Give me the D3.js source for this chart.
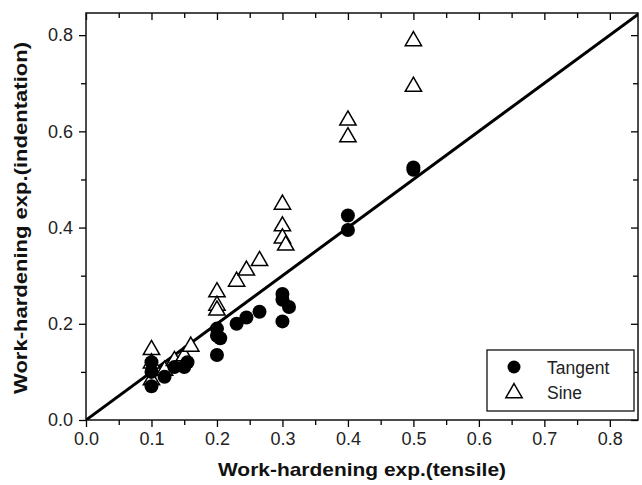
<!DOCTYPE html>
<html><head><meta charset="utf-8">
<script src="https://cdn.jsdelivr.net/npm/d3@7"></script>
<style>body{margin:0;background:#fff}svg{display:block}</style>
</head><body>
<svg id="c" width="642" height="485"></svg>
<script>
const tangentX = [0.1,0.1,0.1,0.12,0.135,0.15,0.155,0.2,0.2,0.205,0.2,0.23,0.245,0.265,0.3,0.3,0.31,0.3,0.4,0.4,0.5,0.5];
const tangentY = [0.12,0.10,0.07,0.09,0.11,0.11,0.12,0.19,0.175,0.17,0.135,0.20,0.213,0.225,0.262,0.25,0.235,0.205,0.425,0.395,0.52,0.525];
const sineX = [0.1,0.1,0.1,0.12,0.135,0.15,0.16,0.2,0.2,0.2,0.23,0.245,0.265,0.3,0.3,0.3,0.305,0.4,0.4,0.5,0.5];
const sineY = [0.148,0.12,0.085,0.105,0.125,0.135,0.155,0.268,0.24,0.23,0.29,0.313,0.333,0.45,0.405,0.38,0.365,0.625,0.59,0.79,0.695];
const fitLine = [[0,0],[0.85,0.85]];
const xTicks = [0,0.1,0.2,0.3,0.4,0.5,0.6,0.7,0.8];
const xMinor = [0.05,0.15,0.25,0.35,0.45,0.55,0.65,0.75];
const yTicks = [0,0.2,0.4,0.6,0.8];
const yMinor = [0.1,0.3,0.5,0.7];
const seriesNames = ["Tangent","Sine"];
const xTitle = "Work-hardening exp.(tensile)";
const yTitle = "Work-hardening exp.(indentation)";

const svg = d3.select("#c");
const L=86, R=638, T=13, B=420;
const x = d3.scaleLinear().domain([0,0.843]).range([L,R]);
const y = d3.scaleLinear().domain([0,0.846]).range([B,T]);
const font = "'Liberation Sans', Arial, Helvetica, sans-serif";

svg.append("defs").append("clipPath").attr("id","clip").append("rect").attr("x",L).attr("y",T).attr("width",R-L).attr("height",B-T);

const fmt = d3.format(".1f");
function styleAxis(g){ g.select(".domain").remove(); g.selectAll("line").attr("stroke","#000").attr("stroke-width",1.3);
  g.selectAll("text").attr("font-family",font).attr("font-size",18).attr("fill","#222"); }
svg.append("g").attr("transform",`translate(0,${B})`).call(d3.axisBottom(x).tickValues(xTicks).tickFormat(fmt).tickSize(7).tickPadding(5)).call(styleAxis);
svg.append("g").attr("transform",`translate(0,${B})`).call(d3.axisBottom(x).tickValues(xMinor).tickFormat("").tickSize(5)).call(styleAxis);
svg.append("g").attr("transform",`translate(${L},0)`).call(d3.axisLeft(y).tickValues(yTicks).tickFormat(fmt).tickSize(7).tickPadding(6)).call(styleAxis);
svg.append("g").attr("transform",`translate(${L},0)`).call(d3.axisLeft(y).tickValues(yMinor).tickFormat("").tickSize(5)).call(styleAxis);
svg.append("g").attr("transform",`translate(0,${T})`).call(d3.axisBottom(x).tickValues(xTicks).tickFormat("").tickSize(7)).call(styleAxis);
svg.append("g").attr("transform",`translate(0,${T})`).call(d3.axisBottom(x).tickValues(xMinor).tickFormat("").tickSize(5)).call(styleAxis);
svg.append("g").attr("transform",`translate(${R},0)`).call(d3.axisLeft(y).tickValues(yTicks).tickFormat("").tickSize(7)).call(styleAxis);
svg.append("g").attr("transform",`translate(${R},0)`).call(d3.axisLeft(y).tickValues(yMinor).tickFormat("").tickSize(5)).call(styleAxis);

svg.append("rect").attr("x",L).attr("y",T).attr("width",R-L).attr("height",B-T).attr("fill","none").attr("stroke","#111").attr("stroke-width",1.5);

svg.append("path").attr("clip-path","url(#clip)").datum(fitLine)
  .attr("d",d3.line().x(d=>x(d[0])).y(d=>y(d[1]))).attr("fill","none").attr("stroke","#000").attr("stroke-width",3);

const tri = d3.symbol().type(d3.symbolTriangle).size(115);
const tangent = tangentX.map((v,i)=>[v,tangentY[i]]);
const sine = sineX.map((v,i)=>[v,sineY[i]]);

svg.append("g").selectAll("path").data(sine).join("path")
  .attr("d",tri).attr("transform",d=>`translate(${x(d[0])},${y(d[1])+1})`)
  .attr("fill","#fff").attr("stroke","#000").attr("stroke-width",1.5);
svg.append("g").selectAll("circle").data(tangent).join("circle")
  .attr("cx",d=>x(d[0])).attr("cy",d=>y(d[1])).attr("r",7).attr("fill","#000");

const lg = svg.append("g");
lg.append("rect").attr("x",487).attr("y",350).attr("width",147).attr("height",61).attr("fill","#fff").attr("stroke","#111").attr("stroke-width",1.3);
lg.append("circle").attr("cx",514).attr("cy",367).attr("r",6.5).attr("fill","#000");
lg.append("path").attr("d",tri).attr("transform","translate(514,393)").attr("fill","#fff").attr("stroke","#000").attr("stroke-width",1.5);
lg.selectAll("text").data(seriesNames).join("text").attr("x",547).attr("y",(d,i)=>374+i*25).text(d=>d)
  .attr("font-family",font).attr("font-size",17.5).attr("fill","#222");

svg.append("text").attr("x",362).attr("y",476).attr("text-anchor","middle").text(xTitle)
  .attr("font-family",font).attr("font-size",19).attr("font-weight","bold").attr("fill","#111")
  .attr("textLength",288).attr("lengthAdjust","spacingAndGlyphs");
svg.append("text").attr("transform","translate(27,218) rotate(-90)").attr("text-anchor","middle").text(yTitle)
  .attr("font-family",font).attr("font-size",19).attr("font-weight","bold").attr("fill","#111")
  .attr("textLength",352).attr("lengthAdjust","spacingAndGlyphs");
</script>
</body></html>
